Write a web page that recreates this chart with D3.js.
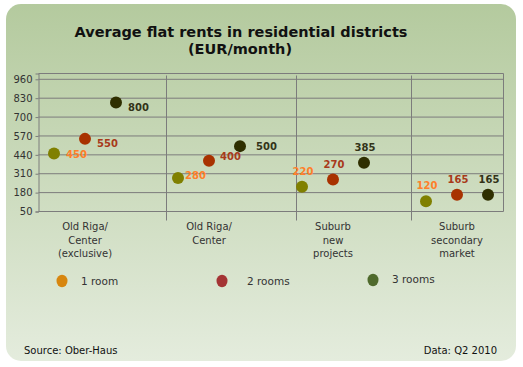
<!DOCTYPE html>
<html><head><meta charset="utf-8">
<script src="https://cdn.jsdelivr.net/npm/d3@7"></script>
<style>
html,body{margin:0;padding:0;background:#fff;}
svg{display:block;font-family:"DejaVu Sans",Verdana,sans-serif;}
</style></head>
<body>
<svg id="chart" width="523" height="367"></svg>
<script>
// ---- data ----
const categories = [
  ["Old Riga/", "Center", "(exclusive)"],
  ["Old Riga/", "Center"],
  ["Suburb", "new", "projects"],
  ["Suburb", "secondary", "market"]
];
const seriesNames = ["1 room", "2 rooms", "3 rooms"];
const oneRoom   = [450, 280, 220, 120];
const twoRooms  = [550, 400, 270, 165];
const threeRooms = [800, 500, 385, 165];
const yTicks = [50, 180, 310, 440, 570, 700, 830, 960];
const dividerSlots = [3.6, 7.8, 11.5];

// ---- style ----
const markerColors = ["#808000", "#a83200", "#2f2f00"];
const labelColors  = ["#ff7f2a", "#a83a1a", "#333318"];
const legendColors = ["#d7860f", "#a43434", "#4f6a2c"];

const svg = d3.select("#chart");
const defs = svg.append("defs");
const grad = defs.append("linearGradient").attr("id","bg").attr("x1",0).attr("y1",0).attr("x2",0).attr("y2",1);
grad.append("stop").attr("offset","0%").attr("stop-color","#b4ca9e");
grad.append("stop").attr("offset","100%").attr("stop-color","#e4ecdd");

svg.append("rect").attr("x",6).attr("y",4).attr("width",510).attr("height",357)
  .attr("rx",15).attr("ry",15).attr("fill","url(#bg)");

// title
svg.append("text").attr("x",241).attr("y",37).attr("text-anchor","middle")
  .attr("font-size","14.5px").attr("font-weight","bold").attr("fill","#111")
  .text("Average flat rents in residential districts");
svg.append("text").attr("x",240).attr("y",54).attr("text-anchor","middle")
  .attr("font-size","14.5px").attr("font-weight","bold").attr("fill","#111")
  .text("(EUR/month)");

const x = d3.scaleLinear().domain([-0.5, 14.5]).range([38.5, 503.5]);
const y = d3.scaleLinear().domain([50, 1000]).range([211.5, 73.5]);

const gridColor = "#7c7c7c";

// y axis
const yAxis = d3.axisLeft(y).tickValues(yTicks).tickSize(3).tickPadding(3);
const gy = svg.append("g").attr("transform", `translate(${x(-0.5)},0)`).call(yAxis);
gy.select(".domain").attr("stroke", gridColor);
gy.selectAll(".tick line").attr("stroke", gridColor);
gy.selectAll(".tick text").attr("font-size","10px").attr("fill","#333")
  .attr("font-family","DejaVu Sans, sans-serif");

// gridlines
const gGrid = svg.append("g");
gGrid.selectAll("line.h").data(yTicks).join("line")
  .attr("x1", x(-0.5)).attr("x2", x(14.5))
  .attr("y1", d => y(d)).attr("y2", d => y(d))
  .attr("stroke", gridColor).attr("stroke-width",1);
gGrid.append("line").attr("x1",x(-0.5)).attr("x2",x(14.5)).attr("y1",y(1000)).attr("y2",y(1000)).attr("stroke",gridColor);
gGrid.append("line").attr("x1",x(14.5)).attr("x2",x(14.5)).attr("y1",y(1000)).attr("y2",y(50)).attr("stroke",gridColor);
gGrid.selectAll("line.v").data(dividerSlots).join("line")
  .attr("x1", d => Math.round(x(d))+0.5).attr("x2", d => Math.round(x(d))+0.5)
  .attr("y1", y(1000)+2).attr("y2", y(50)+9)
  .attr("stroke", gridColor).attr("stroke-width",1);

// category labels
const catG = svg.append("g");
categories.forEach((lines, gi) => {
  const t = catG.append("text").attr("x", x(gi*4+1)).attr("y", 230)
    .attr("text-anchor","middle").attr("font-size","10px").attr("fill","#333");
  lines.forEach((ln, li) => {
    t.append("tspan").attr("x", x(gi*4+1)).attr("dy", li === 0 ? 0 : 13.5).text(ln);
  });
});

// points
const series = [oneRoom, twoRooms, threeRooms];
const ptG = svg.append("g");
series.forEach((vals, si) => {
  vals.forEach((v, gi) => {
    const cx = x(gi*4 + si), cy = y(v);
    ptG.append("circle").attr("cx", cx).attr("cy", cy).attr("r", 6)
      .attr("fill", markerColors[si]);
    const right = gi < 2;
    const lbl = ptG.append("text").attr("font-size","10px").attr("font-weight","bold")
      .attr("fill", labelColors[si]).text(v);
    if (right) {
      const dx = gi === 1 ? [7, 11, 16][si] : 12;
      const dy = gi === 1 ? [-3, -5, 0][si] : [1, 4, 4][si];
      lbl.attr("x", cx + dx).attr("y", cy + dy + 4);
    } else {
      lbl.attr("x", cx + 1).attr("y", cy - 12).attr("text-anchor","middle");
    }
  });
});

// legend
const legX = [62, 222, 373];
const legY = [281, 281, 280];
const legTX = [81, 247, 392];
const legTY = [285, 285, 283];
seriesNames.forEach((n, si) => {
  svg.append("ellipse").attr("cx", legX[si]).attr("cy", legY[si]).attr("rx",5.5).attr("ry",6.2)
    .attr("fill", legendColors[si]);
  svg.append("text").attr("x", legTX[si]).attr("y", legTY[si]).attr("font-size","10.5px")
    .attr("fill","#333").text(n);
});

// footer
svg.append("text").attr("x",24).attr("y",354).attr("font-size","10px").attr("fill","#111").text("Source: Ober-Haus");
svg.append("text").attr("x",497).attr("y",354).attr("text-anchor","end").attr("font-size","10px").attr("fill","#111").text("Data: Q2 2010");
</script>
</body></html>
